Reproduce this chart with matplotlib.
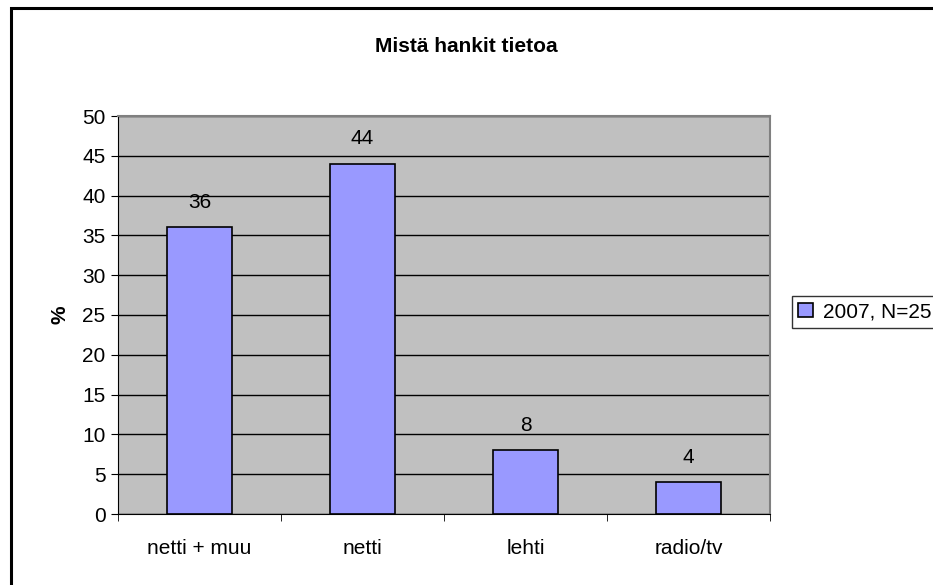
import matplotlib
matplotlib.use("Agg")
import matplotlib.pyplot as plt
from matplotlib.patches import Rectangle

categories = ["netti + muu", "netti", "lehti", "radio/tv"]
values = [36, 44, 8, 4]
series_label = "2007, N=25"
title = "Mistä hankit tietoa"
y_label = "%"
y_ticks = list(range(0, 51, 5))

plt.rcParams['font.family'] = ['Liberation Sans', 'DejaVu Sans']

W, H = 933, 585
fs = 15
fig = plt.figure(figsize=(W / 100, H / 100), dpi=100)

# outer chart frame (cut off at right and bottom like the source)
fig.patches.append(Rectangle((11 / W, -0.05), 1.0, 1 - 8 / H + 0.05,
                             transform=fig.transFigure, fill=False,
                             edgecolor='black', linewidth=2.2, zorder=0))

left, right, top, bottom = 118, 770, 116, 514
ax = fig.add_axes([left / W, 1 - bottom / H, (right - left) / W, (bottom - top) / H])
ax.set_facecolor('#C0C0C0')

x = list(range(len(categories)))
bars = ax.bar(x, values, width=0.4, color='#9999FF', edgecolor='black',
              linewidth=1.2, zorder=3, label=series_label)

for xi, v in zip(x, values):
    ax.annotate(str(v), (xi, v), xytext=(0, 11), textcoords='offset points',
                ha='center', va='bottom', fontsize=fs)

ax.set_xlim(-0.5, len(categories) - 0.5)
ax.set_ylim(0, 50)
ax.set_yticks(y_ticks)
ax.tick_params(axis='y', labelsize=fs, length=5, direction='out', pad=4)
ax.yaxis.grid(True, color='black', linewidth=1.0, zorder=1)
ax.set_axisbelow(True)

ax.set_xticks(x)
ax.set_xticklabels(categories, fontsize=fs)
ax.tick_params(axis='x', length=0, pad=18)
ax.set_xticks([i + 0.5 for i in range(-1, len(categories))], minor=True)
ax.tick_params(axis='x', which='minor', length=5, direction='out')

for s in ['top', 'right']:
    ax.spines[s].set_color('#808080')
    ax.spines[s].set_linewidth(1.5)
ax.spines['left'].set_color('black')
ax.spines['bottom'].set_color('black')

ax.set_ylabel(y_label, fontsize=fs, fontweight='bold', labelpad=9)

fig.text(466 / W, 1 - 46 / H, title, ha='center', va='center',
         fontsize=fs, fontweight='bold')

leg = fig.legend(loc='upper left', bbox_to_anchor=(792 / W, 1 - 296 / H),
                 fontsize=fs, frameon=True, fancybox=False, edgecolor='black',
                 handlelength=0.7, handleheight=0.7, handletextpad=0.5,
                 borderpad=0.3, borderaxespad=0)
leg.get_frame().set_linewidth(1.0)

fig.savefig("out.png", dpi=100)
